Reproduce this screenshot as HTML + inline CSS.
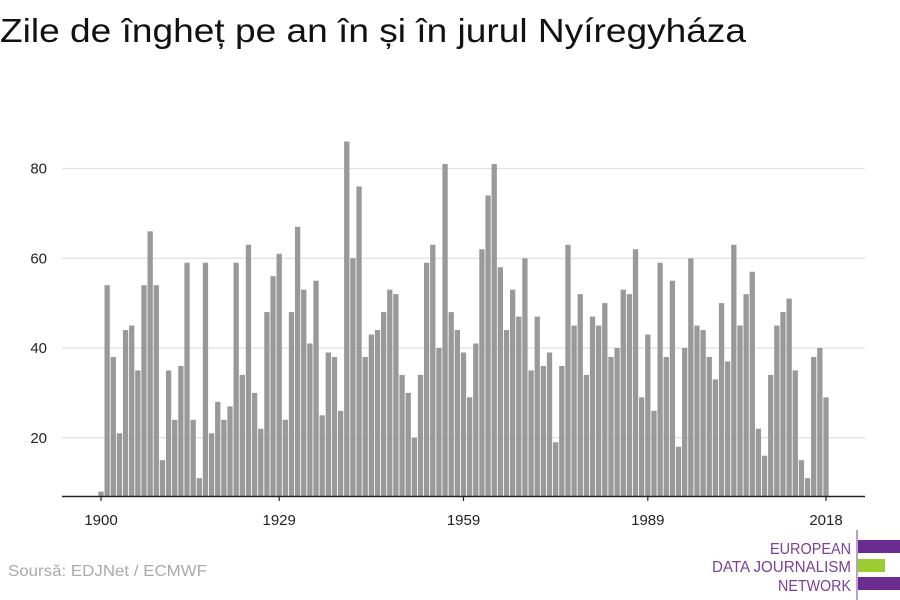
<!DOCTYPE html>
<html><head><meta charset="utf-8"><style>
body{margin:0;background:#fff;font-family:"Liberation Sans",sans-serif;}
#wrap{position:relative;width:900px;height:600px;overflow:hidden;}
</style></head><body>
<div id="wrap">
<svg id="chart" width="900" height="600">
<text x="0" y="42" font-size="33" fill="#111" textLength="746" lengthAdjust="spacingAndGlyphs" font-family="Liberation Sans, sans-serif">Zile de îngheț pe an în și în jurul Nyíregyháza</text>
<g id="grid"></g>
<g id="bars"></g>
<g id="axes"></g>
<text x="8" y="576" font-size="16" fill="#aaa" textLength="199" lengthAdjust="spacingAndGlyphs">Soursă: EDJNet / ECMWF</text>
<g>
<line x1="857" y1="530" x2="857" y2="600" stroke="#7b3f98" stroke-width="1"/>
<text x="851" y="554" font-size="16" fill="#7b3f98" text-anchor="end" textLength="81" lengthAdjust="spacingAndGlyphs">EUROPEAN</text>
<text x="851" y="572" font-size="16" fill="#7b3f98" text-anchor="end" textLength="139" lengthAdjust="spacingAndGlyphs">DATA JOURNALISM</text>
<text x="851" y="591" font-size="16" fill="#7b3f98" text-anchor="end" textLength="73" lengthAdjust="spacingAndGlyphs">NETWORK</text>
<rect x="858" y="540" width="42" height="13" fill="#6a2c8e"/>
<rect x="858" y="559" width="27" height="13" fill="#9acd32"/>
<rect x="858" y="577" width="42" height="13" fill="#6a2c8e"/>
</g>
</svg>
</div>
<script>
const years = [];
for (let y = 1900; y <= 2018; y++) years.push(y);
const frostDays = [8,54,38,21,44,45,35,54,66,54,15,35,24,36,59,24,11,59,21,28,24,27,59,34,63,30,22,48,56,61,24,48,67,53,41,55,25,39,38,26,86,60,76,38,43,44,48,53,52,34,30,20,34,59,63,40,81,48,44,39,29,41,62,74,81,58,44,53,47,60,35,47,36,39,19,36,63,45,52,34,47,45,50,38,40,53,52,62,29,43,26,59,38,55,18,40,60,45,44,38,33,50,37,63,45,52,57,22,16,34,45,48,51,35,15,11,38,40,29];
const yTicks = [20,40,60,80];
const xTicks = [1900,1929,1959,1989,2018];

const NS = "http://www.w3.org/2000/svg";
const x = yr => 101 + (yr - 1900) * (725 / 118);
const y = v => 527.5 - v * 4.4875;
const baseY = 496;
const grid = document.getElementById('grid');
const bars = document.getElementById('bars');
const axes = document.getElementById('axes');

yTicks.forEach(t => {
  const l = document.createElementNS(NS, 'line');
  l.setAttribute('x1', 62); l.setAttribute('x2', 865);
  l.setAttribute('y1', y(t)); l.setAttribute('y2', y(t));
  l.setAttribute('stroke', '#e0e0e0'); l.setAttribute('stroke-width', 1.3);
  
  
  grid.appendChild(l);
  const tx = document.createElementNS(NS, 'text');
  tx.setAttribute('x', 47); tx.setAttribute('y', y(t) + 5);
  tx.setAttribute('text-anchor', 'end'); tx.setAttribute('font-size', 15); tx.setAttribute('fill', '#222');
  tx.textContent = t;
  
  
  axes.appendChild(tx);
});

const bw = 5.3;
years.forEach((yr, i) => {
  const r = document.createElementNS(NS, 'rect');
  const top = y(frostDays[i]);
  r.setAttribute('x', x(yr) - bw / 2);
  r.setAttribute('y', top);
  r.setAttribute('width', bw);
  r.setAttribute('height', Math.max(0, baseY - top));
  r.setAttribute('fill', '#999');
  
  
  bars.appendChild(r);
});

const ax = document.createElementNS(NS, 'line');
ax.setAttribute('x1', 62); ax.setAttribute('x2', 865);
ax.setAttribute('y1', baseY + 0.5); ax.setAttribute('y2', baseY + 0.5);
ax.setAttribute('stroke', '#222'); ax.setAttribute('stroke-width', 1.5);


axes.appendChild(ax);

xTicks.forEach(t => {
  const tk = document.createElementNS(NS, 'line');
  tk.setAttribute('x1', x(t)); tk.setAttribute('x2', x(t));
  tk.setAttribute('y1', baseY); tk.setAttribute('y2', baseY + 5);
  tk.setAttribute('stroke', '#222'); tk.setAttribute('stroke-width', 1.2);
  
  
  axes.appendChild(tk);
  const tx = document.createElementNS(NS, 'text');
  tx.setAttribute('x', x(t)); tx.setAttribute('y', 525);
  tx.setAttribute('text-anchor', 'middle'); tx.setAttribute('font-size', 15); tx.setAttribute('fill', '#222');
  tx.textContent = t;
  
  
  axes.appendChild(tx);
});
</script>
</body></html>
